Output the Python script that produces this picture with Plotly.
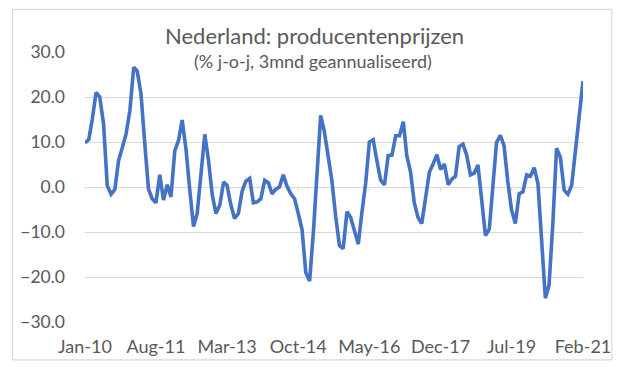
import pandas as pd
import plotly.graph_objects as go

# Monthly values, Jan-2010 .. Feb-2021 (% j-o-j, 3mnd geannualiseerd)
start_month = "2010-01-01"
values = [
    9.8, 10.6, 15.0, 21.0, 20.0, 14.0, 0.3, -1.6, -0.5, 5.9, 8.8, 11.8,
    17.0, 26.6, 25.8, 20.8, 10.0, -0.4, -2.6, -3.5, 2.7, -2.9, 0.5, -2.2,
    8.1, 10.4, 14.9, 8.4, -0.4, -8.8, -5.9, 2.2, 11.7, 5.9, -1.8, -5.9,
    -4.0, 1.1, 0.4, -4.0, -7.0, -5.9, -1.0, 1.3, 1.9, -3.5, -3.3, -2.6,
    1.5, 0.9, -1.5, -0.5, 0.0, 2.7, 0.2, -1.5, -2.6, -5.9, -9.5, -19.0,
    -20.9, -10.0, 3.0, 15.9, 12.3, 7.3, 1.5, -6.5, -13.0, -13.7, -5.5, -6.8,
    -9.5, -12.7, -5.7, 0.8, 10.0, 10.5, 5.9, 1.5, 0.5, 7.0, 7.1, 11.4,
    11.4, 14.5, 7.0, 3.3, -3.5, -6.8, -8.1, -2.0, 3.3, 5.1, 7.2, 3.9,
    5.1, 0.5, 1.7, 2.4, 9.0, 9.5, 7.1, 2.7, 3.1, 4.9, -3.3, -10.8,
    -9.4, 0.0, 9.9, 11.5, 9.2, 1.1, -5.1, -8.1, -1.5, -1.1, 2.7, 2.4,
    4.3, 0.7, -10.3, -24.7, -21.8, -8.0, 8.6, 6.6, -0.7, -1.6, 0.4, 8.5,
    16.0, 23.5,
]
tick_dates = ["2010-01-01", "2011-08-01", "2013-03-01", "2014-10-01",
              "2016-05-01", "2017-12-01", "2019-07-01", "2021-02-01"]
tick_labels = ["Jan-10", "Aug-11", "Mar-13", "Oct-14", "May-16", "Dec-17", "Jul-19", "Feb-21"]
y_ticks = [-30, -20, -10, 0, 10, 20, 30]

title_text = "Nederland: producentenprijzen"
subtitle_text = "(% j-o-j, 3mnd geannualiseerd)"

dates = pd.date_range(start=start_month, periods=len(values), freq="MS")

FONT = "Lato"
TXT = "#595959"
GRID = "#D9D9D9"

fig = go.Figure()
fig.add_trace(go.Scatter(
    x=dates, y=values, mode="lines",
    line=dict(color="#4472C4", width=3.6),
    hoverinfo="skip", showlegend=False,
))

shapes = []
# small tick marks on the zero line at label dates
for d in tick_dates:
    shapes.append(dict(type="line", xref="x", yref="y", x0=d, x1=d, y0=0, y1=-0.9,
                       line=dict(color=GRID, width=1), layer="below"))
# chart border
shapes.append(dict(type="rect", xref="paper", yref="paper",
                   x0=-0.1455, x1=1.0578, y0=-0.1405, y1=1.158,
                   line=dict(color=GRID, width=1.2), fillcolor="rgba(0,0,0,0)", layer="above"))

# the page adds an 8px body margin, so the figure is sized to the remaining area
fig.update_layout(
    width=617, height=361,
    margin=dict(l=73, r=42, t=44, b=45),
    paper_bgcolor="white", plot_bgcolor="white",
    font=dict(family=FONT, color=TXT, size=17),
    shapes=shapes,
    annotations=[
        dict(text=title_text, xref="paper", yref="paper", x=0.460, y=1.062,
             xanchor="center", yanchor="middle", showarrow=False,
             font=dict(family=FONT, size=22, color=TXT)),
        dict(text=subtitle_text, xref="paper", yref="paper", x=0.457, y=0.966,
             xanchor="center", yanchor="middle", showarrow=False,
             font=dict(family=FONT, size=18, color=TXT)),
    ],
    xaxis=dict(
        type="date", range=[dates[0], dates[-1]],
        tickmode="array", tickvals=tick_dates, ticktext=tick_labels,
        showgrid=False, zeroline=False, showline=False, ticks="",
        ticklabelstandoff=12, tickfont=dict(size=18, color=TXT),
    ),
    yaxis=dict(
        range=[-30, 30], tickmode="array", tickvals=y_ticks,
        tickformat=".1f", showgrid=True, gridcolor=GRID, gridwidth=1,
        zeroline=False, showline=False, ticks="",
        ticklabelstandoff=19, tickfont=dict(size=17.5, color=TXT),
    ),
)

fig.write_html("out.html")
